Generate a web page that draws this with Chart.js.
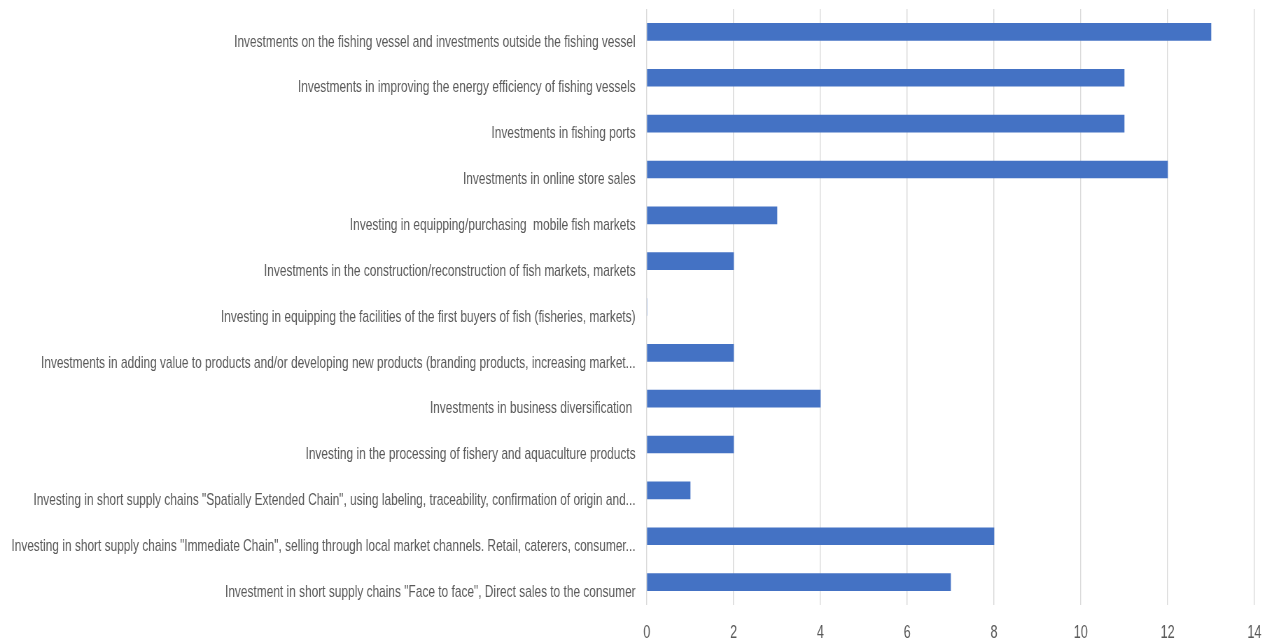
<!DOCTYPE html>
<html>
<head>
<meta charset="utf-8">
<script src="https://cdn.jsdelivr.net/npm/chart.js@4/dist/chart.umd.min.js"></script>
<style>
  html, body { margin: 0; padding: 0; background: #fff; overflow: hidden; }
  /* chart is laid out wide and squeezed horizontally to the page width */
  #wrap { width: 1813px; height: 640px; transform: scaleX(0.7); transform-origin: 0 0; }
  #invChart { display: block; }
</style>
</head>
<body>
<div id="wrap"><canvas id="invChart" width="1813" height="640"></canvas></div>
<script>
// investment measures, top to bottom
const measures = [
  'Investments on the fishing vessel and investments outside the fishing vessel',
  'Investments in improving the energy efficiency of fishing vessels',
  'Investments in fishing ports',
  'Investments in online store sales',
  'Investing in equipping/purchasing  mobile fish markets',
  'Investments in the construction/reconstruction of fish markets, markets',
  'Investing in equipping the facilities of the first buyers of fish (fisheries, markets)',
  'Investments in adding value to products and/or developing new products (branding products, increasing market...',
  'Investments in business diversification ',
  'Investing in the processing of fishery and aquaculture products',
  'Investing in short supply chains "Spatially Extended Chain", using labeling, traceability, confirmation of origin and...',
  'Investing in short supply chains "Immediate Chain", selling through local market channels. Retail, caterers, consumer...',
  'Investment in short supply chains "Face to face", Direct sales to the consumer'
]
const counts = [13, 11, 11, 12, 3, 2, 0, 2, 4, 2, 1, 8, 7]
const xTicks = [0, 2, 4, 6, 8, 10, 12, 14]

const fontFamily = '"Liberation Sans", Arial, sans-serif'
const textGray = '#595959'

const ctx = document.getElementById('invChart').getContext('2d')
const invChart = new Chart(ctx, {
  type: 'bar',
  data: {
    labels: measures,
    datasets: [{
      data: counts,
      backgroundColor: '#4472C4',
      borderWidth: 0,
      barThickness: 17
    }]
  },
  options: {
    indexAxis: 'y',
    responsive: false,
    devicePixelRatio: 1,
    animation: false,
    layout: { padding: { top: 9, right: 21, bottom: 0, left: 0 } },
    plugins: { legend: { display: false }, tooltip: { enabled: false } },
    scales: {
      x: {
        min: 0,
        max: 14,
        afterBuildTicks: (axis) => { axis.ticks = xTicks.map(v => ({ value: v })) },
        afterFit: (axis) => {
          axis.height = 35
          axis.paddingLeft = 0
          axis.paddingRight = 0
        },
        grid: { color: '#d9d9d9', lineWidth: 1.43, drawTicks: false },
        border: { display: false },
        ticks: { color: textGray, font: { family: fontFamily, size: 18 }, padding: 17 }
      },
      y: {
        grid: { display: false, drawTicks: false },
        border: { display: false },
        ticks: { color: textGray, font: { family: fontFamily, size: 17 }, padding: 16, labelOffset: 10, autoSkip: false },
        afterFit: (axis) => {
          axis.width = 924
          axis.paddingTop = 0
          axis.paddingBottom = 0
        }
      }
    }
  }
})
</script>
</body>
</html>
